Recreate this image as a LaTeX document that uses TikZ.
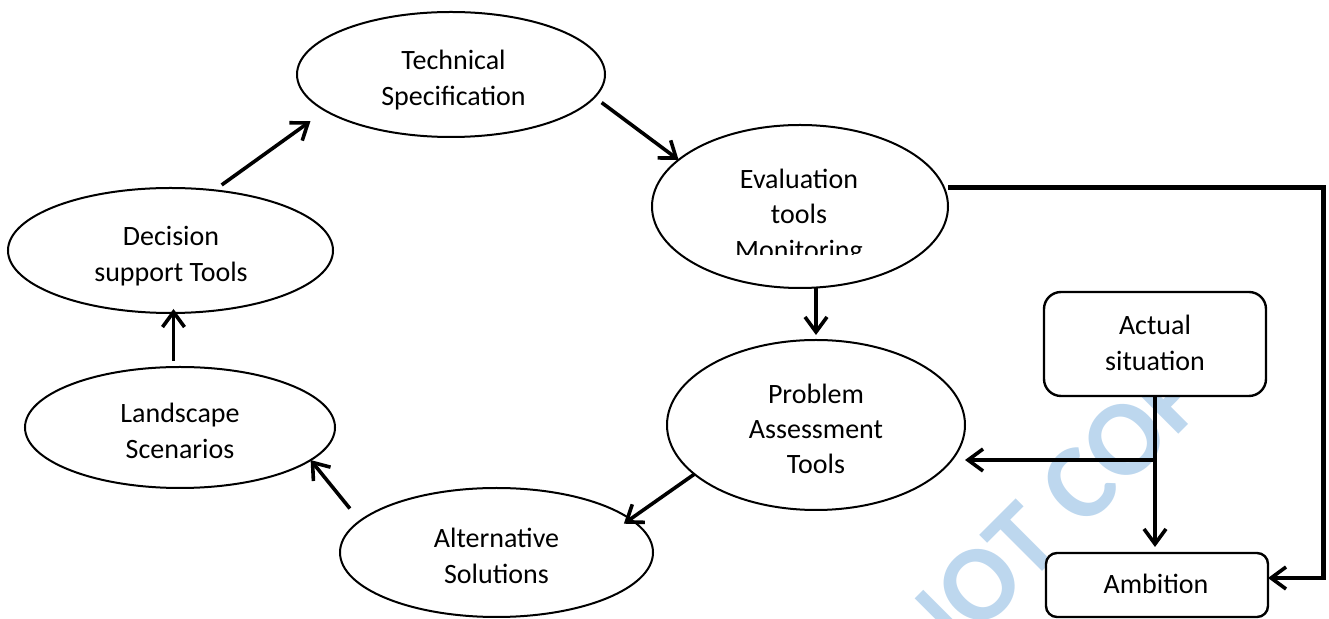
\documentclass[tikz,border=0pt]{standalone}
\usepackage{fontspec}
\setmainfont{Carlito}
\usetikzlibrary{arrows.meta,shapes.geometric}
\definecolor{wmblue}{HTML}{BDD7EE}
\begin{document}
\begin{tikzpicture}[x=0.5pt,y=-0.5pt,
  ellip/.style={ellipse,draw,line width=1pt,fill=white,inner sep=0pt,outer sep=0pt},
  rbox/.style={rectangle,draw,line width=1.2pt,fill=white,inner sep=0pt,outer sep=0pt},
  lbl/.style={align=center,inner sep=0pt,font=\fontsize{14pt}{17.65pt}\selectfont},
  arr/.style={line width=1.8pt,-{Straight Barb[length=7.5pt,width=11pt]}},
  loopline/.style={line width=2.5pt,line join=miter},
  wm/.style={text=wmblue,font=\fontsize{54pt}{60pt}\selectfont\bfseries,inner sep=0pt}
]
\useasboundingbox (0,0) rectangle (1329,619);

% watermark, behind everything
\node[wm,rotate=45] (wmark) at (1008,556) {DO NOT COPY};

% process cycle
\node[ellip,minimum width=154pt,minimum height=62.5pt] (tech) at (451,74.5) {};
\node[ellip,minimum width=148pt,minimum height=81.5pt] (eval) at (800,206.5) {};
\node[ellip,minimum width=149pt,minimum height=85pt]   (prob) at (816,425) {};
\node[ellip,minimum width=156.5pt,minimum height=64.5pt] (alt) at (496.5,552.5) {};
\node[ellip,minimum width=155pt,minimum height=60.5pt] (land) at (180,427.5) {};
\node[ellip,minimum width=162.5pt,minimum height=62.5pt] (dec) at (170.5,250.5) {};

% situation boxes
\node[rbox,rounded corners=8.5pt,minimum width=111pt,minimum height=52pt] (actual) at (1155,344) {};
\node[rbox,rounded corners=5.5pt,minimum width=111pt,minimum height=32pt] (amb) at (1157,585) {};

% labels
\node[lbl] (techlbl) at (453.5,80) {Technical\\Specification};
\node[lbl] (declbl) at (171,256) {Decision\\support Tools};
\node[lbl] (landlbl) at (180,431) {Landscape\\Scenarios};
\node[lbl] (altlbl) at (496.5,556) {Alternative\\Solutions};
\node[lbl] (problbl) at (816,429) {Problem\\Assessment\\Tools};
\node[lbl] (actuallbl) at (1155,343) {Actual\\situation};
\node[lbl] (amblbl) at (1156,583.5) {Ambition};
\begin{scope}
  \clip (640,120) rectangle (960,255);
  \node[lbl] (evallbl) at (799,216.5) {Evaluation\\tools\\Monitoring};
\end{scope}

% cycle connectors
\draw[arr,shorten <=4.6pt,shorten >=9.1pt] (dec.54) -- (tech.196.5);
\draw[arr,shorten <=4.5pt] (tech.351.8) -- (eval.159.3);
\draw[arr,shorten >=2.5pt] (eval.south -| prob.north) -- (prob.north);
\draw[arr,shorten >=-4pt] (prob.202.1) -- (alt.14.3);
\draw[arr,shorten <=8pt] (alt.167.5) -- (land.346.1);
\draw[arr,shorten <=3pt,shorten >=-2pt] ([xshift=1.5pt]land.north -| dec.south) -- ([xshift=1.5pt]dec.south);

% actual situation feeds
\coordinate (branch) at (1155,460);
\draw[arr,shorten >=3pt] (actual.south) -- (actual.south |- amb.north);
\draw[arr] (branch) -- (prob.east |- branch);

% monitoring loop to ambition
\coordinate (loopNE) at (1323,188);
\coordinate (loopSE) at (1323,578);
\draw[loopline] (eval.east |- loopNE) -- (loopNE) -- ([yshift=-0.9pt]loopSE);
\draw[arr] (loopSE) -- (amb.east |- loopSE);
\end{tikzpicture}
\end{document}
